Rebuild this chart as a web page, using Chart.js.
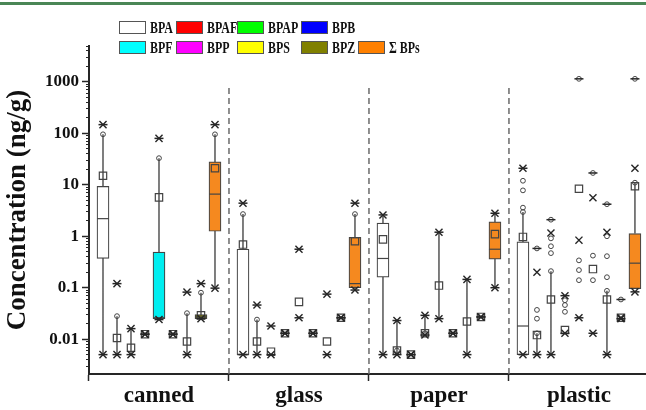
<!DOCTYPE html>
<html><head><meta charset="utf-8">
<script src="https://cdn.jsdelivr.net/npm/chart.js@4.4.1/dist/chart.umd.min.js"></script>
<style>
html,body{margin:0;padding:0;background:#fff;}
#wrap{position:relative;width:646px;height:410px;overflow:hidden;background:#fff;}
#topline{position:absolute;left:0;top:2px;width:646px;height:3px;background:#4a8656;}
#c{position:absolute;left:0;top:0;}
.lt{position:absolute;font:bold 17px "Liberation Serif",serif;color:#111;line-height:14px;white-space:nowrap;transform:scaleX(0.7);transform-origin:0 0;}
.sw{position:absolute;width:27px;height:13px;border:1px solid #555;box-sizing:border-box;}
</style></head><body>
<div id="wrap"><canvas id="c" width="646" height="410"></canvas><div id="topline"></div><div id="legend"></div></div>
<script>
// ---------- data ----------
const categories = ['canned', 'glass', 'paper', 'plastic'];
const series = ['BPA', 'BPAF', 'BPAP', 'BPB', 'BPF', 'BPP', 'BPS', 'BPZ', 'Σ BPs'];
const legendColors = ['#ffffff', '#ff0000', '#00ff00', '#0000ff', '#00ffff', '#ff00ff', '#ffff00', '#808000', '#ff8000'];
const boxColors = ['#ffffff', '#ff0000', '#00ff00', '#0000ff', '#00eef0', '#ff00ff', '#ffff00', '#808000', '#f5891f'];
const yTickValues = [0.01, 0.1, 1, 10, 100, 1000];
const yTickLabels = ['0.01', '0.1', '1', '10', '100', '1000'];

// rows = categories, columns = series
const q1 = [
  [0.37, null, null, null, 0.025, null, null, 0.025, 1.25],
  [0.005, null, null, null, null, null, null, null, 0.1],
  [0.16, null, null, null, null, null, null, null, 0.36],
  [0.005, null, null, null, null, null, null, null, 0.096]
];
const q3 = [
  [9.3, null, null, null, 0.49, null, null, 0.03, 28],
  [0.56, null, null, null, null, null, null, null, 0.95],
  [1.8, null, null, null, null, null, null, null, 1.9],
  [0.78, null, null, null, null, null, null, null, 1.13]
];
const median = [
  [2.2, null, null, null, 0.026, null, null, 0.027, 6.6],
  [0.005, null, null, null, null, null, null, null, 0.12],
  [0.37, null, null, null, null, null, null, null, 0.56],
  [0.018, null, null, null, null, null, null, null, 0.3]
];
const mean = [
  [15, 0.0105, 0.0068, 0.0125, 5.7, 0.0125, 0.009, 0.029, 21],
  [0.69, 0.009, 0.0057, 0.013, 0.053, 0.013, 0.009, 0.026, 0.8],
  [0.87, 0.006, 0.005, 0.013, 0.11, 0.013, 0.022, 0.027, 1.1],
  [0.97, 0.012, 0.059, 0.015, 8.4, 0.23, 0.059, 0.026, 9.4]
];
const whiskerLow = [
  [0.005, 0.005, 0.005, null, 0.025, null, 0.005, 0.025, 0.1],
  [0.005, 0.005, null, null, null, null, null, null, 0.09],
  [0.005, 0.005, null, 0.013, 0.025, null, 0.005, null, 0.1],
  [0.005, 0.005, 0.005, null, null, null, 0.005, null, 1.13]
];
const whiskerHigh = [
  [96, 0.028, 0.016, null, 33, null, 0.032, 0.08, 96],
  [2.7, 0.024, null, null, null, null, null, null, 2.7],
  [2.6, 0.023, null, 0.029, 1.2, null, 0.145, null, 2.8],
  [2.96, 0.013, 0.21, null, null, null, 0.087, null, 11]
];
const p1 = [
  [0.005, 0.005, 0.005, 0.0125, 0.024, 0.0125, 0.005, 0.025, 0.098],
  [0.005, 0.005, 0.005, 0.013, 0.026, 0.013, 0.005, 0.026, 0.09],
  [0.005, 0.005, 0.005, 0.012, 0.025, 0.013, 0.005, 0.027, 0.1],
  [0.005, 0.005, 0.005, 0.013, 0.026, 0.013, 0.005, 0.025, 0.083]
];
const p99 = [
  [148, 0.12, 0.016, 0.0125, 80, 0.0125, 0.082, 0.12, 148],
  [4.4, 0.046, 0.018, 0.013, 0.56, 0.013, 0.075, 0.026, 4.4],
  [2.6, 0.023, 0.005, 0.029, 1.2, 0.013, 0.145, 0.027, 2.8],
  [21, 0.2, 1.16, 0.07, 0.84, 5.6, 1.2, 0.026, 21]
];
const minVal = [
  [0.005, 0.005, 0.005, 0.0125, 0.024, 0.0125, 0.005, 0.025, 0.098],
  [0.005, 0.005, 0.005, 0.013, 0.026, 0.013, 0.005, 0.026, 0.09],
  [0.005, 0.005, 0.005, 0.012, 0.025, 0.013, 0.005, 0.027, 0.1],
  [0.005, 0.005, 0.005, 0.013, 0.026, 0.013, 0.005, 0.025, 0.083]
];
const maxVal = [
  [148, 0.12, 0.016, 0.0125, 80, 0.0125, 0.082, 0.12, 148],
  [4.4, 0.046, 0.018, 0.013, 0.56, 0.013, 0.075, 0.026, 4.4],
  [2.6, 0.023, 0.005, 0.029, 1.2, 0.013, 0.145, 0.027, 2.8],
  [21, 0.58, 2.1, 0.07, 1150, 17, 4.2, 0.059, 1150]
];
const outliers = [
  [[96], [0.028], [], [], [33], [], [0.032], [0.08], [96]],
  [[2.7], [0.024], [], [], [], [], [], [], [2.7]],
  [[], [0.006], [], [0.013], [], [], [], [], []],
  [[12, 7.8, 3.6, 2.96], [0.58, 0.037, 0.025, 0.013], [2.1, 0.91, 0.64, 0.47, 0.21], [0.057, 0.046, 0.034],
   [1150, 0.34, 0.22, 0.14], [17, 0.42, 0.14], [4.2, 1.0, 0.41, 0.16, 0.087], [0.059], [1150, 11]]
];
const separatorTop = 800;
const yMin = 0.0021, yMax = 5000;

// ---------- helpers ----------
const X = (c, s) => c + (s - 4) * 0.1;
function pts(tbl) {
  const out = [];
  tbl.forEach((row, c) => row.forEach((v, s) => { if (v != null) out.push({x: X(c, s), y: v}); }));
  return out;
}
const boxData = [], boxBg = [];
q1.forEach((row, c) => row.forEach((v, s) => {
  if (v != null) { boxData.push({x: X(c, s), y: [v, q3[c][s]]}); boxBg.push(boxColors[s]); }
}));
const whiskerData = [];
whiskerLow.forEach((row, c) => row.forEach((v, s) => {
  if (v != null) {
    whiskerData.push({x: X(c, s), y: v}, {x: X(c, s), y: whiskerHigh[c][s]}, {x: X(c, s), y: null});
  }
}));
const outlierData = [];
outliers.forEach((row, c) => row.forEach((list, s) => list.forEach(v => outlierData.push({x: X(c, s), y: v}))));
const sepData = [];
[0.5, 1.5, 2.5].forEach(x => sepData.push({x, y: yMin}, {x, y: separatorTop}, {x, y: null}));

const ink = '#262626';
const datasets = [
  {type: 'line', data: sepData, borderColor: '#6a6a6a', borderWidth: 1.5, borderDash: [6, 4], pointRadius: 0, spanGaps: false, order: 20},
  {type: 'line', data: whiskerData, borderColor: '#555', borderWidth: 1.5, pointRadius: 0, spanGaps: false, order: 15},
  {type: 'bar', data: boxData, backgroundColor: boxBg, borderColor: '#444', borderWidth: 1.2, borderSkipped: false, barThickness: 12, order: 14},
  {type: 'scatter', data: pts(median), pointStyle: 'line', pointRadius: 6, borderColor: '#444', borderWidth: 1.2, order: 13},
  {type: 'scatter', data: outlierData, pointStyle: 'circle', pointRadius: 2.4, backgroundColor: 'rgba(0,0,0,0)', borderColor: '#444', borderWidth: 1, order: 5},
  {type: 'scatter', data: pts(mean), pointStyle: 'rect', pointRadius: 5.2, backgroundColor: 'rgba(0,0,0,0)', borderColor: '#444', borderWidth: 1.2, order: 4},
  {type: 'scatter', data: pts(minVal).concat(pts(maxVal)), pointStyle: 'line', pointRadius: 4.5, borderColor: ink, borderWidth: 1.5, order: 3},
  {type: 'scatter', data: pts(p1).concat(pts(p99)), pointStyle: 'crossRot', pointRadius: 5, borderColor: ink, borderWidth: 1.4, order: 2}
];

const serif = '"Liberation Serif", "Times New Roman", serif';
const isMajor = v => yTickValues.some(t => Math.abs(t - v) / t < 1e-6);

new Chart(document.getElementById('c'), {
  type: 'scatter',
  data: {datasets},
  options: {
    responsive: false, animation: false, devicePixelRatio: 1,
    layout: {autoPadding: false, padding: {top: 46, right: 0, bottom: 0, left: 0}},
    plugins: {legend: {display: false}, tooltip: {enabled: false}},
    scales: {
      x: {
        type: 'linear', min: -0.5, max: 3.479, offset: false,
        afterBuildTicks: s => { s.ticks = categories.map((_, i) => ({value: i})); },
        afterFit: s => { s.height = 36; s.paddingLeft = 0; s.paddingRight = 0; },
        grid: {drawOnChartArea: false, drawTicks: true, tickLength: 7, tickColor: ink, tickWidth: 1.5},
        border: {color: ink, width: 2},
        ticks: {callback: v => categories[v] ?? '', autoSkip: false, maxRotation: 0, padding: 1,
                color: '#111', font: {family: serif, size: 23, weight: 'bold'}}
      },
      y: {
        type: 'logarithmic', min: yMin, max: yMax,
        afterBuildTicks: s => {
          const t = [];
          for (let e = -3; e <= 3; e++) for (let m = 1; m <= 9; m++) {
            const v = Number((m * Math.pow(10, e)).toPrecision(6));
            if (v >= yMin && v <= yMax) t.push({value: v});
          }
          s.ticks = t;
        },
        afterFit: s => { s.width = 89; },
        grid: {drawOnChartArea: false, drawTicks: true, tickLength: 7, tickColor: ink,
               tickWidth: c => isMajor(c.tick.value) ? 1.5 : 1,
               tickBorderDash: c => isMajor(c.tick.value) ? [] : [3, 4],
               tickBorderDashOffset: c => isMajor(c.tick.value) ? 0 : 3},
        border: {color: ink, width: 2},
        ticks: {autoSkip: false, padding: 3, color: '#111', font: {family: serif, size: 17, weight: 'bold'},
                callback: v => { const i = yTickValues.findIndex(t => Math.abs(t - v) / t < 1e-6); return i >= 0 ? yTickLabels[i] : ''; }},
        title: {display: true, text: 'Concentration (ng/g)', color: '#111', padding: {top: 2, bottom: 0},
                font: {family: serif, size: 27, weight: 'bold'}}
      }
    }
  }
});

// ---------- legend ----------
const legendCols = [119, 176, 237, 301, 358];
const legendRows = [21, 41];
const lg = document.getElementById('legend');
series.forEach((name, i) => {
  const row = i < 4 ? 0 : 1, col = i < 4 ? i : i - 4;
  const sw = document.createElement('div');
  sw.className = 'sw';
  sw.style.left = legendCols[col] + 'px'; sw.style.top = legendRows[row] + 'px';
  sw.style.background = legendColors[i];
  lg.appendChild(sw);
  const tx = document.createElement('div');
  tx.className = 'lt'; tx.textContent = name;
  tx.style.left = (legendCols[col] + 31) + 'px'; tx.style.top = (legendRows[row]) + 'px';
  lg.appendChild(tx);
});
</script>
</body></html>
